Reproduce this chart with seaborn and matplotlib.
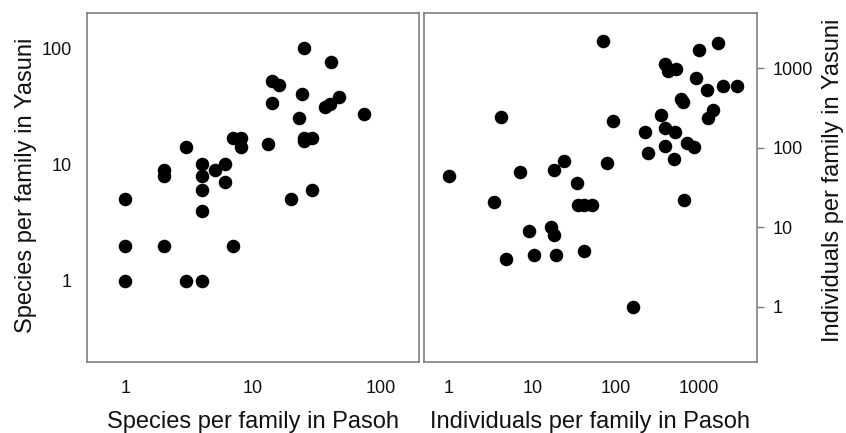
import matplotlib
matplotlib.use("Agg")
import matplotlib.pyplot as plt
import seaborn as sns
import pandas as pd
from matplotlib.ticker import FixedLocator, NullLocator, FixedFormatter

# Left panel: species per family (Pasoh vs Yasuni)
species_pasoh = [1, 2, 2, 3, 4, 4, 4, 5, 6, 6, 7, 8, 8, 13, 14, 16, 14, 25, 24, 23,
                 25, 25, 29, 41, 37, 40, 47, 74, 20, 29, 4, 1, 2, 7, 1, 3, 4]
species_yasuni = [5, 9, 8, 14, 10, 8, 6, 9, 10, 7, 17, 17, 14, 15, 52, 48, 34, 100, 40, 25,
                  17, 16, 17, 76, 31, 33, 38, 27, 5, 6, 4, 2, 2, 2, 1, 1, 1]

# Right panel: individuals per family (Pasoh vs Yasuni)
indiv_pasoh = [1, 4.2, 7.2, 18, 24, 34, 70, 92, 79, 225, 244, 353, 395, 395, 520, 506,
               395, 421, 535, 609, 644, 731, 864, 913, 993, 1239, 1273, 1462, 1710, 1928,
               2840, 673, 3.5, 35, 42, 52, 17, 18, 9, 4.8, 10.5, 19, 42, 161]
indiv_yasuni = [44, 247, 49, 52, 69, 36, 2240, 217, 65, 158, 86, 261, 179, 105, 156, 73,
                1137, 938, 994, 408, 381, 115, 102, 757, 1726, 529, 235, 302, 2090, 595,
                595, 22, 21, 19, 19, 19, 10, 8, 9, 4, 4.5, 4.5, 5, 1]

left_ticks = [1, 10, 100]
left_tick_labels = ["1", "10", "100"]
right_xticks = [1, 10, 100, 1000]
right_xtick_labels = ["1", "10", "100", "1000"]
right_yticks = [1, 10, 100, 1000]
right_ytick_labels = ["1", "10", "100", "1000"]

sns.set_style("white")
plt.rcParams["font.family"] = ["Liberation Sans", "DejaVu Sans"]

fig = plt.figure(figsize=(8.46, 4.33), dpi=100)
W, H = 846, 433
ax1 = fig.add_axes([87 / W, (H - 362) / H, 332 / W, 349 / H])
ax2 = fig.add_axes([424 / W, (H - 362) / H, 333 / W, 349 / H])

df1 = pd.DataFrame({"x": species_pasoh, "y": species_yasuni})
df2 = pd.DataFrame({"x": indiv_pasoh, "y": indiv_yasuni})

frame_col = "#7f7f7f"
for ax, df in ((ax1, df1), (ax2, df2)):
    sns.scatterplot(data=df, x="x", y="y", ax=ax, color="black", s=95,
                    edgecolor="black", linewidth=0, legend=False, zorder=3)
    ax.set_xscale("log")
    ax.set_yscale("log")
    for sp in ax.spines.values():
        sp.set_color(frame_col)
        sp.set_linewidth(1.2)
    ax.tick_params(which="major", length=5, width=1, color=frame_col,
                   labelsize=13, labelcolor="#111111", direction="out")
    ax.tick_params(axis="x", pad=8)
    ax.tick_params(axis="y", pad=6)
    ax.xaxis.set_minor_locator(NullLocator())
    ax.yaxis.set_minor_locator(NullLocator())
    ax.grid(False)

ax1.set_xlim(0.5, 200)
ax1.set_ylim(0.2, 200)
ax1.xaxis.set_major_locator(FixedLocator(left_ticks))
ax1.xaxis.set_major_formatter(FixedFormatter(left_tick_labels))
ax1.yaxis.set_major_locator(FixedLocator(left_ticks))
ax1.yaxis.set_major_formatter(FixedFormatter(left_tick_labels))
ax1.set_xlabel("Species per family in Pasoh", fontsize=17, color="#111111")
ax1.set_ylabel("Species per family in Yasuni", fontsize=17, color="#111111")
ax1.xaxis.set_label_coords(0.5, -0.139)
ax1.yaxis.set_label_coords(-0.152, 0.507)

ax2.set_xlim(0.5, 5000)
ax2.set_ylim(0.2, 5000)
ax2.xaxis.set_major_locator(FixedLocator(right_xticks))
ax2.xaxis.set_major_formatter(FixedFormatter(right_xtick_labels))
ax2.yaxis.tick_right()
ax2.yaxis.set_label_position("right")
ax2.yaxis.set_major_locator(FixedLocator(right_yticks))
ax2.yaxis.set_major_formatter(FixedFormatter(right_ytick_labels))
ax2.set_xlabel("Individuals per family in Pasoh", fontsize=17, color="#111111")
ax2.set_ylabel("Individuals per family in Yasuni", fontsize=17, color="#111111",
               rotation=90)
ax2.xaxis.set_label_coords(0.5, -0.139)
ax2.yaxis.set_label_coords(1.195, 0.52)

fig.savefig("out.png", dpi=100)
